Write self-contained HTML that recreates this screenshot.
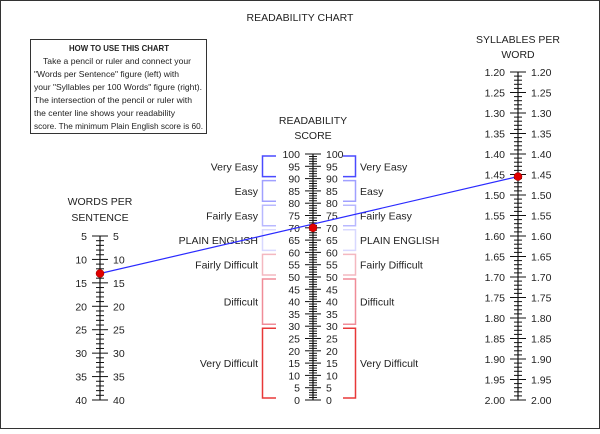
<!DOCTYPE html>
<html><head><meta charset="utf-8"><style>
html,body{margin:0;padding:0;background:#fff}
svg text{font-family:"Liberation Sans",sans-serif;font-size:10.5px;fill:#222}
</style></head><body>
<svg width="600" height="429" viewBox="0 0 600 429">
<rect x="0.5" y="0.5" width="599" height="428" fill="#fff" stroke="#333"/>
<text x="300" y="21" text-anchor="middle">READABILITY CHART</text>
<g>
<rect x="30.5" y="39.5" width="176" height="94" fill="#fff" stroke="#333"/>
<text x="69" y="51" font-weight="bold" style="font-size:8.5px" textLength="100" lengthAdjust="spacingAndGlyphs">HOW TO USE THIS CHART</text>
<text x="43" y="64" style="font-size:8.5px" textLength="148" lengthAdjust="spacingAndGlyphs">Take a pencil or ruler and connect your</text>
<text x="34" y="77" style="font-size:8.5px" textLength="145" lengthAdjust="spacingAndGlyphs">"Words per Sentence" figure (left) with</text>
<text x="34" y="90" style="font-size:8.5px" textLength="168" lengthAdjust="spacingAndGlyphs">your "Syllables per 100 Words" figure (right).</text>
<text x="34" y="103" style="font-size:8.5px" textLength="158" lengthAdjust="spacingAndGlyphs">The intersection of the pencil or ruler with</text>
<text x="34" y="116" style="font-size:8.5px" textLength="141" lengthAdjust="spacingAndGlyphs">the center line shows your readability</text>
<text x="34" y="129" style="font-size:8.5px" textLength="169" lengthAdjust="spacingAndGlyphs">score. The minimum Plain English score is 60.</text>
</g>
<text x="313" y="124" text-anchor="middle">READABILITY</text>
<text x="313" y="139" text-anchor="middle">SCORE</text>
<text x="100" y="205" text-anchor="middle">WORDS PER</text>
<text x="100" y="221" text-anchor="middle">SENTENCE</text>
<text x="518" y="43" text-anchor="middle">SYLLABLES PER</text>
<text x="518" y="58" text-anchor="middle">WORD</text>
<g id="g"></g>
</svg>
<script>
const wordsRange=[5,40];
const scoreRange=[0,100];
const syllRange=[1.20,2.00];
const bandNames=["Very Easy","Easy","Fairly Easy","PLAIN ENGLISH","Fairly Difficult","Difficult","Very Difficult"];
const bandLow=[90,80,70,60,50,30,0];
const bandHigh=[100,90,80,70,60,50,30];
const bandColors=["#4a4aff","#a0a0ff","#b8b8ff","#d8d8ff","#f4b8c0","#f08c98","#e83838"];
const wordsValue=13;
const syllValue=1.455;
const scoreValue=70;

const NS="http://www.w3.org/2000/svg";
const g=document.getElementById('g');
function mk(t,a,txt){const e=document.createElementNS(NS,t);for(const k in a)e.setAttribute(k,a[k]);if(txt!==undefined)e.textContent=txt;g.appendChild(e);return e;}
const yW=v=>236+(v-wordsRange[0])/(wordsRange[1]-wordsRange[0])*164;
const yS=v=>400-(v-scoreRange[0])/(scoreRange[1]-scoreRange[0])*246;
const yY=v=>72+(v-syllRange[0])/(syllRange[1]-syllRange[0])*328;

function scale(x,y0,y1,n,yf,vals,labels,name){
  let ax=mk('line',{x1:x,x2:x,y1:y0,y2:y1,stroke:'#111','stroke-width':1.2});
  
  
  for(let i=0;i<=n;i++){
    const y=y0+(y1-y0)*i/n;const maj=i%5===0;const w=maj?8:4;
    mk('line',{x1:x-w,x2:x+w,y1:y,y2:y,stroke:'#111','stroke-width':1});
  }
  vals.forEach((v,i)=>{
    const y=yf(v);
    let a=mk('text',{x:x-13,y:y+4,'text-anchor':'end'},labels[i]);
    
    
    let b=mk('text',{x:x+13,y:y+4},labels[i]);
    
    
  });
}
const wv=[],wl=[];for(let v=5;v<=40;v+=5){wv.push(v);wl.push(String(v));}
scale(100,yW(5),yW(40),35,yW,wv,wl,'words');
const sv=[],sl=[];for(let v=0;v<=100;v+=5){sv.push(v);sl.push(String(v));}
scale(313,yS(100),yS(0),100,yS,sv,sl,'score');
const yv=[],yl=[];for(let i=0;i<=16;i++){const v=1.2+i*0.05;yv.push(v);yl.push(v.toFixed(2));}
scale(518,yY(1.2),yY(2.0),80,yY,yv,yl,'syllables');

bandNames.forEach((nm,i)=>{
  const t=yS(bandHigh[i])+2,b=yS(bandLow[i])-2,c=bandColors[i],m=(t+b)/2;
  let p=mk('path',{d:`M276 ${t}H262.5V${b}H276`,fill:'none',stroke:c,'stroke-width':1.5});
  
  
  let q=mk('path',{d:`M343 ${t}H355.5V${b}H343`,fill:'none',stroke:c,'stroke-width':1.5});
  
  
  let l=mk('text',{x:258,y:m+4,'text-anchor':'end'},nm);
  
  
  let r=mk('text',{x:360,y:m+4},nm);
  
  
});

const x1=100,y1=yW(wordsValue),x2=518,y2=yY(syllValue);
let ln=mk('line',{x1:x1,y1:y1,x2:x2,y2:y2,stroke:'#2a2aff','stroke-width':1.2});


[[x1,y1,'words-point'],[313,yS(scoreValue),'score-point'],[x2,y2,'syllables-point']].forEach(p=>{
  let c=mk('circle',{cx:p[0],cy:p[1],r:4,fill:'#e00000',stroke:'#900','stroke-width':0.5});
  
  
});
</script>
</body></html>
